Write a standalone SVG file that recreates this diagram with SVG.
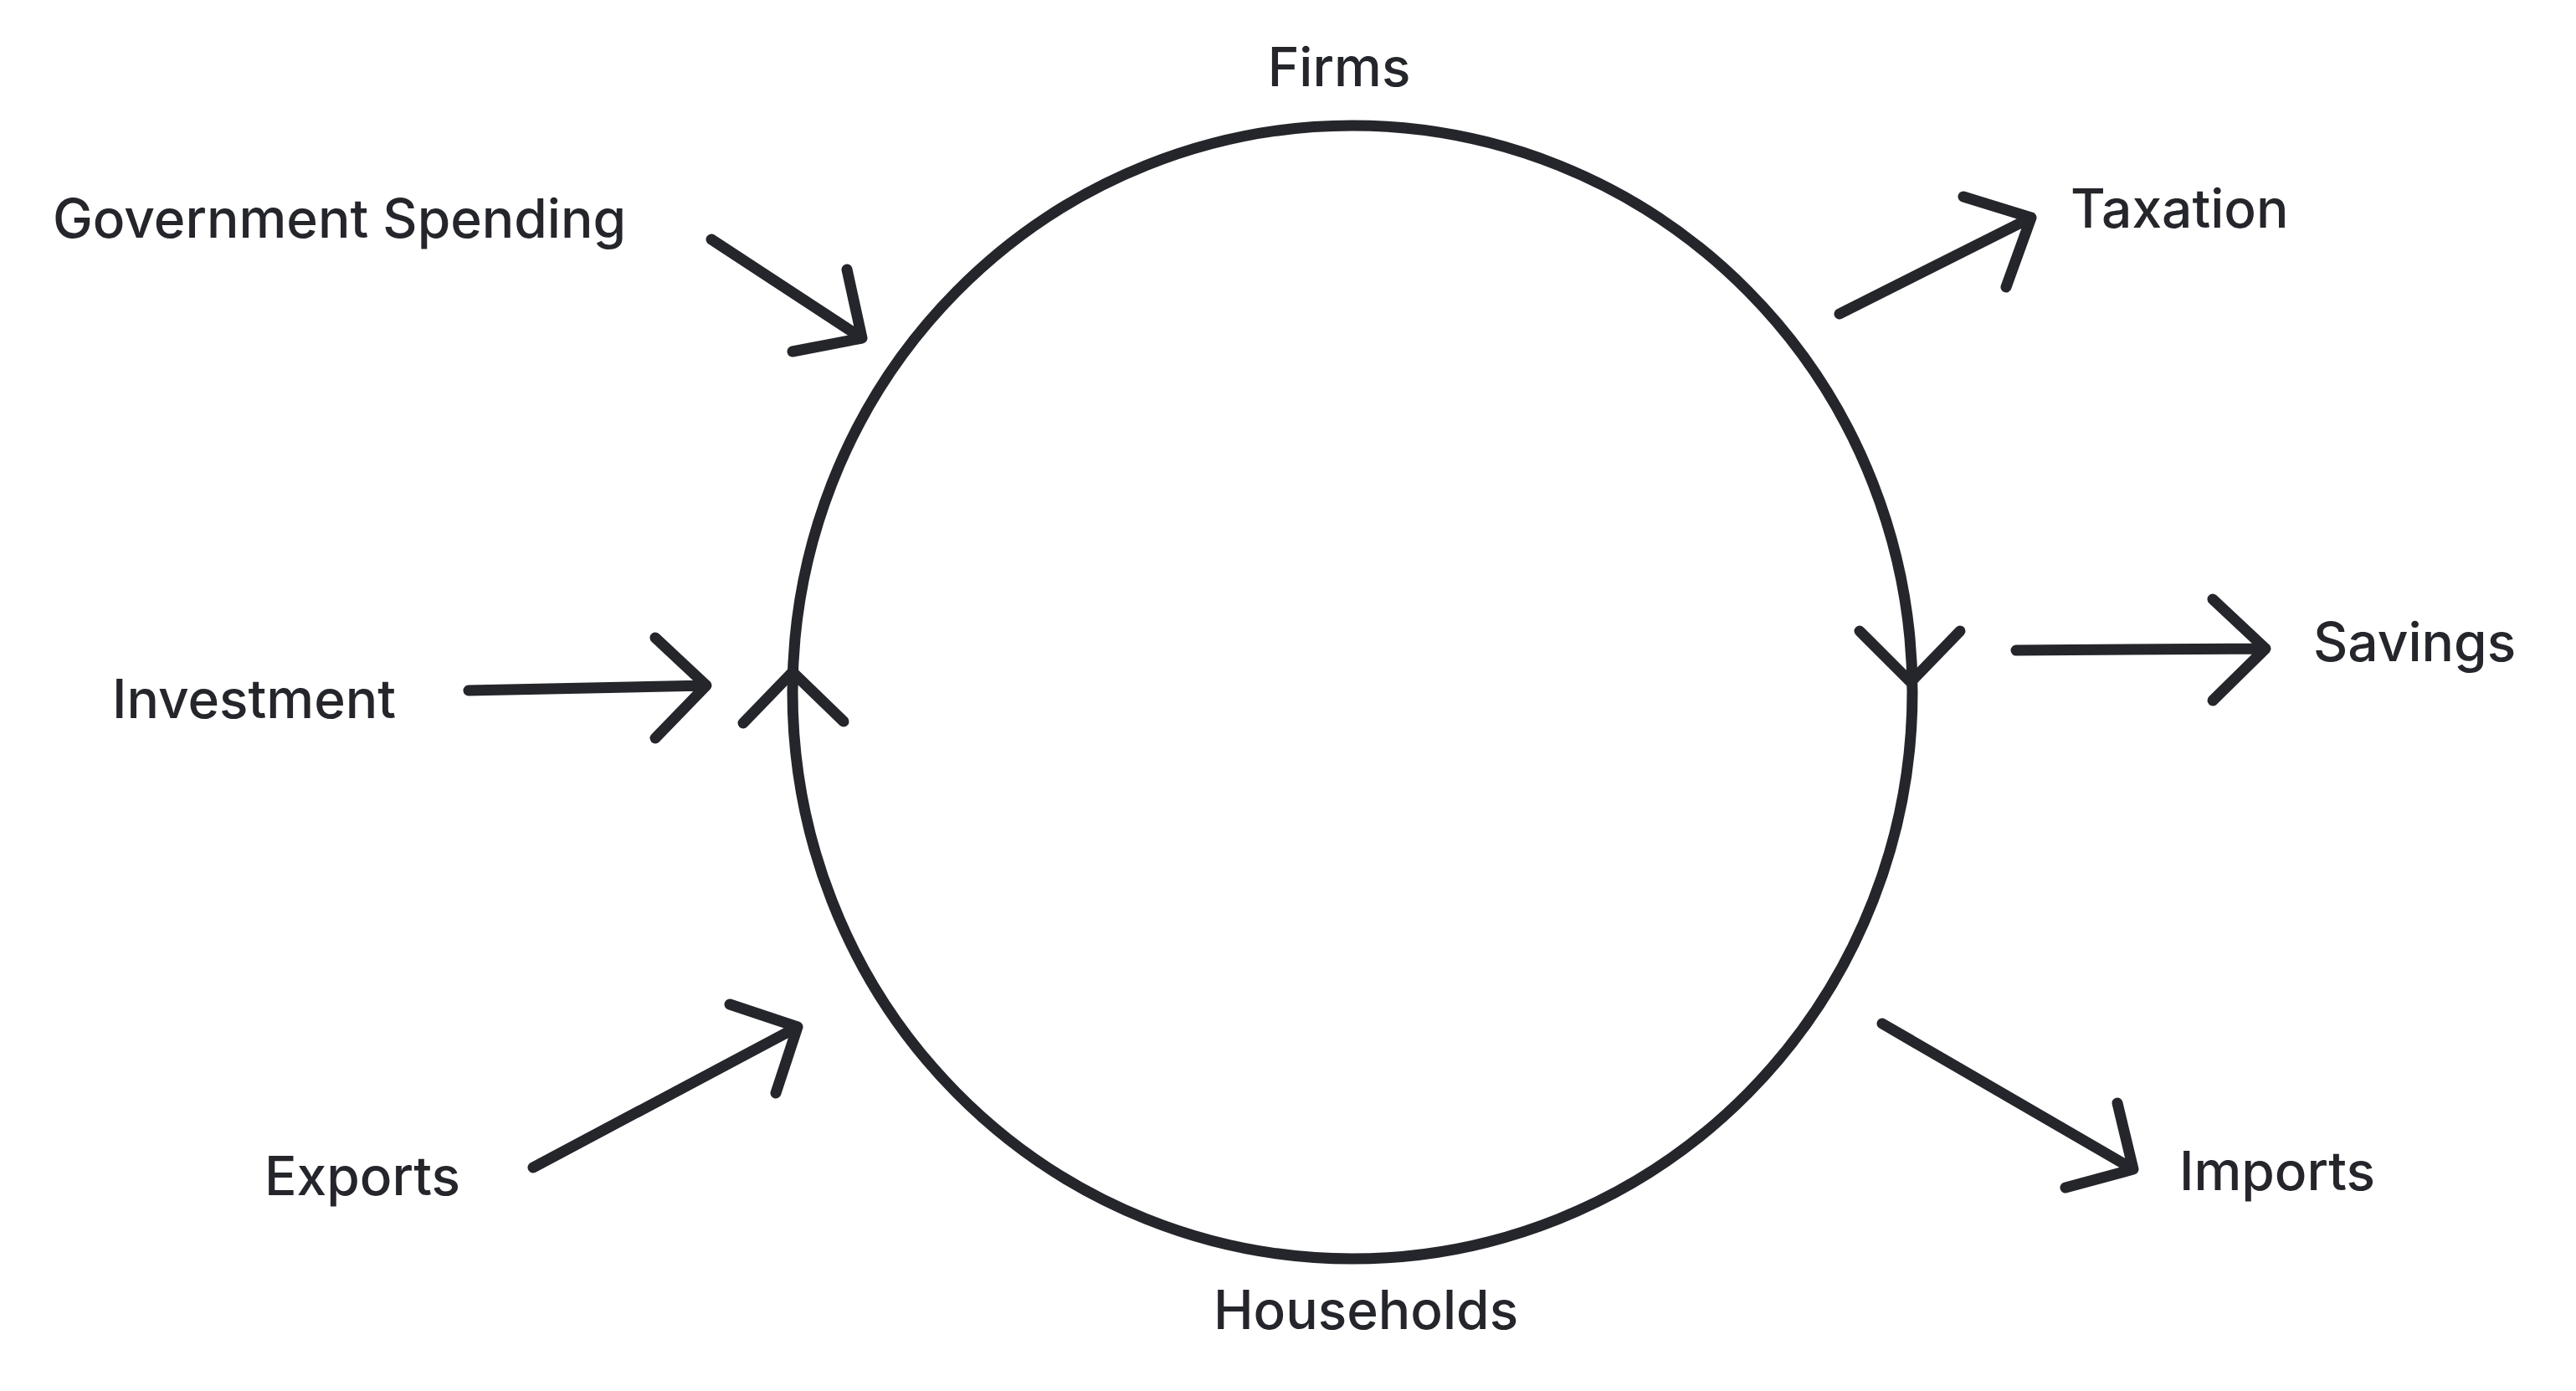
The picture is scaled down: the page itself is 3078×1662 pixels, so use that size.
<svg xmlns="http://www.w3.org/2000/svg" width="3078" height="1662" viewBox="0 0 3078 1662">
<style>
.s{fill:none;stroke:#24262b;stroke-width:13;stroke-linecap:round;stroke-linejoin:round}
text{font-family:Inter,"Liberation Sans",sans-serif;font-size:64px;font-weight:500;fill:#24262b}
</style>
<rect width="3078" height="1662" fill="#fff"/>
<g id="circle"><ellipse class="s" cx="1616" cy="827" rx="669" ry="677"/>
<polyline class="s" points="888,864 947,803 1008,862"/>
<polyline class="s" points="2222,754 2283,815 2342,754"/></g>
<g id="firms"><text x="1600" y="103" text-anchor="middle">Firms</text></g>
<g id="households"><text x="1632" y="1588" text-anchor="middle">Households</text></g>
<g id="gov"><text x="63" y="284">Government Spending</text></g>
<g id="inv"><text x="134" y="858">Investment</text></g>
<g id="exp"><text x="316" y="1428">Exports</text></g>
<g id="tax"><text x="2474" y="272">Taxation</text></g>
<g id="sav"><text x="2764" y="790">Savings</text></g>
<g id="imp"><text x="2604" y="1422">Imports</text></g>
<g id="connectors">
<path class="s" d="M850,286 L1030,404 M1012,322 L1030,404 L947,420"/>
<path class="s" d="M560,825 L844,819 M783,762 L844,819 L783,882"/>
<path class="s" d="M637,1395 L953,1227 M872,1200 L953,1227 L927,1306"/>
<path class="s" d="M2198,375 L2427,260 M2346,235 L2427,260 L2397,343"/>
<path class="s" d="M2409,777 L2707,775 M2644,716 L2707,775 L2644,837"/>
<path class="s" d="M2249,1223 L2549,1397 M2530,1318 L2549,1397 L2468,1419"/>
</g>
</svg>
